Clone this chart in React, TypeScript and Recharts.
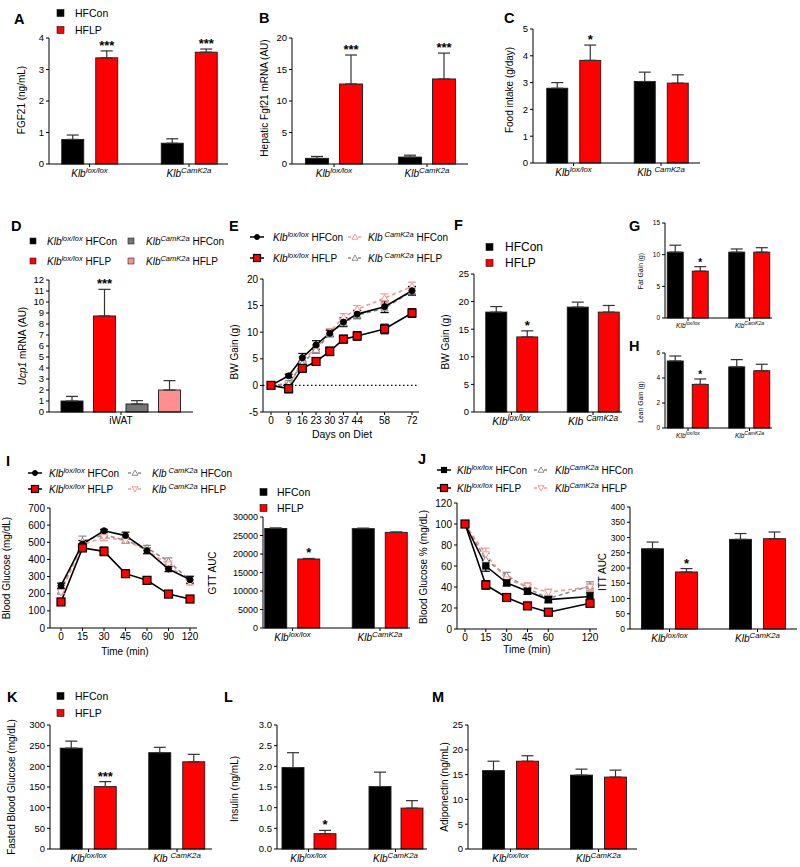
import React from 'react';
import { BarChart, Bar, XAxis, YAxis, ErrorBar, LineChart, Line, ReferenceLine } from 'recharts';

const FONT = 'Arial, "Liberation Sans", Helvetica, sans-serif';
const BLACK = '#000000';
const RED = '#ff0000';
const GRAY = '#767676';
const PINK = '#ff8e8e';
const LINE_PINK = '#f29a9a';

const diets = ['HFCon', 'HFLP'];
const genotypes = ['lox/lox', 'CamK2a'];

// A - serum FGF21
const fgf21Con = [0.78, 0.66];
const fgf21ConErr = [0.14, 0.14];
const fgf21Lp = [3.37, 3.55];
const fgf21LpErr = [0.22, 0.1];
const fgf21Stars = ['***', '***'];

// B - hepatic Fgf21 mRNA
const liverCon = [0.9, 1.1];
const liverConErr = [0.3, 0.3];
const liverLp = [12.7, 13.5];
const liverLpErr = [4.6, 4.1];
const liverStars = ['***', '***'];

// C - food intake
const foodCon = [2.79, 3.04];
const foodConErr = [0.21, 0.35];
const foodLp = [3.83, 2.98];
const foodLpErr = [0.57, 0.31];
const foodStars = ['*', ''];

// D - Ucp1 iWAT
const ucpTissue = ['iWAT'];
const ucpGroups = ['lox/lox HFCon', 'lox/lox HFLP', 'CamK2a HFCon', 'CamK2a HFLP'];
const ucpLoxCon = [1.0];
const ucpLoxConErr = [0.42];
const ucpLoxLp = [8.73];
const ucpLoxLpErr = [2.42];
const ucpCamCon = [0.73];
const ucpCamConErr = [0.3];
const ucpCamLp = [2.0];
const ucpCamLpErr = [0.85];

// E - body weight gain over time
const days = [0, 9, 16, 23, 30, 37, 44, 58, 72];
const bwLoxCon = [0, 1.8, 5.2, 7.6, 9.8, 11.9, 13.4, 14.8, 17.8];
const bwLoxConErr = [0.2, 0.3, 0.8, 0.8, 0.6, 0.8, 0.7, 1.1, 0.8];
const bwLoxLp = [0, -0.6, 3.2, 4.5, 6.4, 8.7, 9.3, 10.6, 13.6];
const bwLoxLpErr = [0.2, 0.8, 0.5, 0.7, 0.8, 0.7, 0.8, 0.9, 0.8];
const bwCamCon = [0, -0.3, 4.7, 7.0, 10.1, 12.8, 14.3, 16.4, 18.6];
const bwCamConErr = [0.2, 0.8, 0.6, 0.7, 0.6, 0.7, 0.7, 0.8, 0.8];
const bwCamLp = [0, 0.3, 4.1, 6.7, 9.7, 11.7, 13.2, 14.5, 17.7];
const bwCamLpErr = [0.2, 0.6, 0.6, 0.7, 0.6, 0.7, 0.7, 0.8, 0.8];

// F, G, H - BW / fat / lean gain
const bwGainCon = [18.1, 19.0];
const bwGainConErr = [1.0, 0.9];
const bwGainLp = [13.6, 18.1];
const bwGainLpErr = [1.1, 1.2];
const bwGainStars = ['*', ''];
const fatCon = [10.4, 10.4];
const fatConErr = [1.1, 0.5];
const fatLp = [7.4, 10.4];
const fatLpErr = [0.7, 0.7];
const fatStars = ['*', ''];
const leanCon = [5.36, 4.89];
const leanConErr = [0.4, 0.58];
const leanLp = [3.49, 4.58];
const leanLpErr = [0.43, 0.52];
const leanStars = ['*', ''];

// I - GTT
const gttTimes = ['0', '15', '30', '45', '60', '90', '120'];
const gttLoxCon = [247, 490, 567, 539, 451, 344, 282];
const gttLoxConErr = [15, 20, 8, 20, 18, 15, 20];
const gttLoxLp = [152, 467, 447, 317, 278, 198, 169];
const gttLoxLpErr = [10, 15, 25, 18, 10, 10, 10];
const gttCamCon = [214, 506, 545, 510, 467, 389, 278];
const gttCamConErr = [12, 30, 20, 15, 15, 20, 20];
const gttCamLp = [208, 486, 529, 510, 453, 370, 266];
const gttCamLpErr = [12, 25, 20, 15, 15, 20, 15];
const gttAucCon = [26900, 26850];
const gttAucConErr = [150, 150];
const gttAucLp = [18650, 25850];
const gttAucLpErr = [150, 100];
const gttAucStars = ['*', ''];

// J - ITT (no 90 min sample)
const ittTimes = ['0', '15', '30', '45', '60', '90', '120'];
const ittTickLabels = ['0', '15', '30', '45', '60', '120'];
const ittLoxCon = [100, 60, 44, 36, 28, null, 31];
const ittLoxConErr = [0, 5, 3, 3, 3, null, 4];
const ittLoxLp = [100, 42, 30, 22, 16, null, 24.5];
const ittLoxLpErr = [0, 4, 2, 1.5, 1.5, null, 2];
const ittCamCon = [100, 66, 51, 39, 29, null, 41];
const ittCamConErr = [0, 6, 3, 3, 3, null, 4];
const ittCamLp = [100, 71, 47, 41, 35, null, 40];
const ittCamLpErr = [0, 6, 3, 3, 3, null, 3];
const ittAucCon = [263, 294];
const ittAucConErr = [22, 19];
const ittAucLp = [187, 296];
const ittAucLpErr = [11, 22];
const ittAucStars = ['*', ''];

// K, L, M
const fbgCon = [244, 233];
const fbgConErr = [17, 13];
const fbgLp = [151, 211];
const fbgLpErr = [12, 18];
const fbgStars = ['***', ''];
const insCon = [1.97, 1.51];
const insConErr = [0.36, 0.35];
const insLp = [0.37, 0.99];
const insLpErr = [0.08, 0.18];
const insStars = ['*', ''];
const adipoCon = [15.8, 14.9];
const adipoConErr = [1.9, 1.2];
const adipoLp = [17.7, 14.5];
const adipoLpErr = [1.1, 1.4];

type BarSeries = { values: number[]; errs: number[]; color: string; stars?: string[] };

const klbTick = (fs: number, space: boolean) => (p: any) => (
  <text x={p.x} y={p.y + fs * 0.8} textAnchor="middle" fontFamily={FONT} fontSize={fs} fontStyle="italic" fill="#000">
    {'Klb' + (space && p.payload.value === 'CamK2a' ? ' ' : '')}
    <tspan dy={-fs * 0.42} fontSize={fs * 0.78}>{p.payload.value}</tspan>
  </text>
);

const barShape = (k: number, color: string, starFs: number) => (p: any) => {
  const { x, y, width, height, payload } = p;
  const star = payload ? payload['s' + k] : '';
  let starEl = null;
  if (star && height > 0) {
    const val = payload['v' + k];
    const err = payload['e' + k][1];
    const capY = y - (height / val) * err;
    starEl = (
      <text x={x + width / 2} y={capY - 1} textAnchor="middle" fontFamily={FONT} fontWeight="bold" fontSize={starFs} fill="#000">
        {star}
      </text>
    );
  }
  return (
    <g>
      <rect x={x} y={y} width={width} height={height} fill={color} stroke="#1a1a1a" strokeWidth={0.9} />
      {starEl}
    </g>
  );
};

function BarPanel(props: {
  plot: number[];
  centers: number[];
  domain: number[];
  ticks: number[];
  categories: string[];
  series: BarSeries[];
  barSize: number;
  barGap: number;
  fs?: number;
  catFs?: number;
  starFs?: number;
  space?: boolean;
  plainCat?: boolean;
  fmt?: (v: number) => string;
}) {
  const { plot, centers, domain, ticks, categories, series, barSize, barGap } = props;
  const fs = props.fs ?? 9.5;
  const catFs = props.catFs ?? 10;
  const starFs = props.starFs ?? 13;
  const [x0, y0, x1, y1] = plot;
  const ML = 44, MT = 20, MR = 6, MB = 26;
  const W = x1 - x0 + ML + MR;
  const H = y1 - y0 + MT + MB;
  let padL = 0, padR = 0;
  if (centers.length === 2) {
    const band = centers[1] - centers[0];
    padL = centers[0] - band / 2 - x0;
    padR = x1 - (centers[1] + band / 2);
  }
  const data = categories.map((c, i) => {
    const row: Record<string, any> = { cat: c };
    series.forEach((s, k) => {
      row['v' + k] = s.values[i];
      row['e' + k] = [0, s.errs[i]];
      row['s' + k] = s.stars ? s.stars[i] : '';
    });
    return row;
  });
  return (
    <div style={{ position: 'absolute', left: x0 - ML, top: y0 - MT, width: W, height: H }}>
      <BarChart width={W} height={H} data={data} margin={{ top: MT, right: MR, bottom: 0, left: 0 }} barGap={barGap}>
        <XAxis
          dataKey="cat"
          height={MB}
          padding={{ left: padL, right: padR }}
          stroke="#000"
          tickSize={3}
          interval={0}
          tick={props.plainCat ? { fontSize: catFs, fill: '#000', fontFamily: FONT } : klbTick(catFs, !!props.space)}
        />
        <YAxis
          width={ML}
          domain={domain}
          ticks={ticks}
          interval={0}
          stroke="#000"
          tickSize={3}
          tickFormatter={props.fmt}
          tick={{ fontSize: fs, fill: '#000', fontFamily: FONT }}
        />
        {series.map((s, k) => (
          <Bar key={k} dataKey={'v' + k} barSize={barSize} fill={s.color} isAnimationActive={false} shape={barShape(k, s.color, starFs)}>
            <ErrorBar dataKey={'e' + k} width={6} stroke="#333" strokeWidth={1.2} direction="y" />
          </Bar>
        ))}
      </BarChart>
    </div>
  );
}

type LineSeries = {
  values: (number | null)[];
  errs: (number | null)[];
  color: string;
  dash?: string;
  marker: string;
  fill: string;
  mStroke: string;
  size: number;
};

function Marker({ cx, cy, kind, fill, stroke, size }: any) {
  if (cx == null || cy == null || isNaN(cy)) return <g />;
  const h = size / 2;
  if (kind === 'circle') return <circle cx={cx} cy={cy} r={h} fill={fill} stroke={stroke} strokeWidth={1} />;
  if (kind === 'square')
    return <rect x={cx - h} y={cy - h} width={size} height={size} fill={fill} stroke={stroke} strokeWidth={1.2} />;
  if (kind === 'up')
    return <polygon points={`${cx},${cy - h} ${cx + h},${cy + h * 0.75} ${cx - h},${cy + h * 0.75}`} fill={fill} stroke={stroke} strokeWidth={1} />;
  return <polygon points={`${cx},${cy + h} ${cx + h},${cy - h * 0.75} ${cx - h},${cy - h * 0.75}`} fill={fill} stroke={stroke} strokeWidth={1} />;
}

function LinePanel(props: {
  plot: number[];
  xVals: (string | number)[];
  numeric?: boolean;
  xDomain?: number[];
  xTicks?: (string | number)[];
  pad: number[];
  yDomain: number[];
  yTicks: number[];
  series: LineSeries[];
  fs?: number;
  zero?: boolean;
}) {
  const { plot, xVals, pad, yDomain, yTicks, series } = props;
  const fs = props.fs ?? 10;
  const [x0, y0, x1, y1] = plot;
  const ML = 44, MT = 14, MR = 8, MB = 24;
  const W = x1 - x0 + ML + MR;
  const H = y1 - y0 + MT + MB;
  const data = xVals.map((x, i) => {
    const row: Record<string, any> = { x };
    series.forEach((s, k) => {
      row['v' + k] = s.values[i];
      row['e' + k] = s.errs[i];
    });
    return row;
  });
  return (
    <div style={{ position: 'absolute', left: x0 - ML, top: y0 - MT, width: W, height: H }}>
      <LineChart width={W} height={H} data={data} margin={{ top: MT, right: MR, bottom: 0, left: 0 }}>
        {props.numeric ? (
          <XAxis
            dataKey="x"
            type="number"
            domain={props.xDomain}
            ticks={props.xTicks as number[]}
            interval={0}
            padding={{ left: pad[0], right: pad[1] }}
            height={MB}
            stroke="#000"
            tickSize={3}
            tick={{ fontSize: fs, fill: '#000', fontFamily: FONT }}
          />
        ) : (
          <XAxis
            dataKey="x"
            type="category"
            scale="point"
            ticks={props.xTicks as any}
            interval={0}
            padding={{ left: pad[0], right: pad[1] }}
            height={MB}
            stroke="#000"
            tickSize={3}
            tick={{ fontSize: fs, fill: '#000', fontFamily: FONT }}
          />
        )}
        <YAxis
          width={ML}
          domain={yDomain}
          ticks={yTicks}
          interval={0}
          stroke="#000"
          tickSize={3}
          tick={{ fontSize: fs, fill: '#000', fontFamily: FONT }}
        />
        {props.zero && <ReferenceLine y={0} stroke="#000" strokeDasharray="1.5 2.5" strokeWidth={1.2} />}
        {series.map((s, k) => (
          <Line
            key={k}
            dataKey={'v' + k}
            stroke={s.color}
            strokeWidth={1.6}
            strokeDasharray={s.dash}
            connectNulls
            isAnimationActive={false}
            dot={(p: any) => (
              <Marker key={p.index} cx={p.cx} cy={p.cy} kind={s.marker} fill={s.fill} stroke={s.mStroke} size={s.size} />
            )}
            activeDot={false}
          >
            <ErrorBar dataKey={'e' + k} width={4} stroke={s.mStroke} strokeWidth={1.2} direction="y" />
          </Line>
        ))}
      </LineChart>
    </div>
  );
}

const twoGroups = (con: number[], conErr: number[], lp: number[], lpErr: number[], stars?: string[]): BarSeries[] => [
  { values: con, errs: conErr, color: BLACK },
  { values: lp, errs: lpErr, color: RED, stars },
];

const YTitle = ({ x, y, fs = 10, children }: any) => (
  <text transform={`translate(${x},${y}) rotate(-90)`} textAnchor="middle" fontFamily={FONT} fontSize={fs} fill="#000">
    {children}
  </text>
);

const Letter = ({ x, y, t }: any) => (
  <text x={x} y={y} fontFamily={FONT} fontWeight="bold" fontSize={14.5} fill="#000">
    {t}
  </text>
);

const Klb = ({ x, y, sup, rest, fs = 10 }: any) => (
  <text x={x} y={y} fontFamily={FONT} fontSize={fs} fill="#000">
    <tspan fontStyle="italic">Klb</tspan>
    <tspan fontStyle="italic" fontSize={fs * 0.75} dy={-fs * 0.4}>
      {sup}
    </tspan>
    <tspan dy={fs * 0.4}>{' ' + rest}</tspan>
  </text>
);

const SquareLegend = ({ x, tx, ys, fs = 10.5 }: any) => (
  <g>
    {diets.map((d, i) => (
      <g key={d}>
        <rect x={x} y={ys[i] - 3.5} width={7} height={7} fill={i === 0 ? BLACK : RED} stroke="#111" strokeWidth={0.6} />
        <text x={tx} y={ys[i] + fs * 0.36} fontFamily={FONT} fontSize={fs} fill="#000">
          {d}
        </text>
      </g>
    ))}
  </g>
);

const LineKey = ({ cx, cy, s }: any) => (
  <g>
    <line x1={cx - 7} x2={cx + 7} y1={cy} y2={cy} stroke={s.color} strokeWidth={1.5} strokeDasharray={s.dash ? '3 2' : undefined} />
    <Marker cx={cx} cy={cy} kind={s.marker} fill={s.fill} stroke={s.mStroke} size={s.size - 1} />
  </g>
);

export default function App() {
  const eSeries: LineSeries[] = [
    { values: bwCamCon, errs: bwCamConErr, color: LINE_PINK, dash: '4 3', marker: 'up', fill: '#fff', mStroke: LINE_PINK, size: 7 },
    { values: bwCamLp, errs: bwCamLpErr, color: '#8c8c8c', dash: '4 3', marker: 'up', fill: '#fff', mStroke: '#8c8c8c', size: 7 },
    { values: bwLoxCon, errs: bwLoxConErr, color: BLACK, marker: 'circle', fill: BLACK, mStroke: BLACK, size: 6 },
    { values: bwLoxLp, errs: bwLoxLpErr, color: BLACK, marker: 'square', fill: RED, mStroke: BLACK, size: 8 },
  ];
  const iSeries: LineSeries[] = [
    { values: gttCamCon, errs: gttCamConErr, color: '#8c8c8c', dash: '4 3', marker: 'up', fill: '#fff', mStroke: '#8c8c8c', size: 7 },
    { values: gttCamLp, errs: gttCamLpErr, color: LINE_PINK, dash: '4 3', marker: 'down', fill: '#fff', mStroke: LINE_PINK, size: 7 },
    { values: gttLoxCon, errs: gttLoxConErr, color: BLACK, marker: 'circle', fill: BLACK, mStroke: BLACK, size: 6 },
    { values: gttLoxLp, errs: gttLoxLpErr, color: BLACK, marker: 'square', fill: RED, mStroke: BLACK, size: 8 },
  ];
  const jSeries: LineSeries[] = [
    { values: ittCamCon, errs: ittCamConErr, color: '#8c8c8c', dash: '4 3', marker: 'up', fill: '#fff', mStroke: '#8c8c8c', size: 7 },
    { values: ittCamLp, errs: ittCamLpErr, color: LINE_PINK, dash: '4 3', marker: 'down', fill: '#fff', mStroke: LINE_PINK, size: 7 },
    { values: ittLoxCon, errs: ittLoxConErr, color: BLACK, marker: 'square', fill: BLACK, mStroke: BLACK, size: 6 },
    { values: ittLoxLp, errs: ittLoxLpErr, color: BLACK, marker: 'square', fill: RED, mStroke: BLACK, size: 8 },
  ];

  return (
    <div style={{ position: 'absolute', left: 0, top: 0, width: 800, height: 867, background: '#fff', overflow: 'hidden', fontFamily: FONT }}>
      {/* A */}
      <BarPanel plot={[49, 38, 228, 164]} centers={[89.5, 189]} domain={[0, 4]} ticks={[0, 1, 2, 3, 4]} categories={genotypes}
        series={twoGroups(fgf21Con, fgf21ConErr, fgf21Lp, fgf21LpErr, fgf21Stars)} barSize={22} barGap={12} />
      {/* B */}
      <BarPanel plot={[292, 38, 468, 164]} centers={[334, 427]} domain={[0, 20]} ticks={[0, 5, 10, 15, 20]} categories={genotypes}
        series={twoGroups(liverCon, liverConErr, liverLp, liverLpErr, liverStars)} barSize={23} barGap={11} />
      {/* C */}
      <BarPanel plot={[533, 29, 700, 163]} centers={[573.5, 661]} domain={[0, 5]} ticks={[0, 1, 2, 3, 4, 5]} categories={genotypes}
        series={twoGroups(foodCon, foodConErr, foodLp, foodLpErr, foodStars)} barSize={21} barGap={12} space />
      {/* D */}
      <BarPanel plot={[49, 280, 193, 412]} centers={[]} domain={[0, 12]} ticks={[0, 1, 2, 3, 4, 5, 6, 7, 8, 9, 10, 11, 12]}
        categories={ucpTissue} plainCat
        series={[
          { values: ucpLoxCon, errs: ucpLoxConErr, color: BLACK },
          { values: ucpLoxLp, errs: ucpLoxLpErr, color: RED, stars: ['***'] },
          { values: ucpCamCon, errs: ucpCamConErr, color: GRAY },
          { values: ucpCamLp, errs: ucpCamLpErr, color: PINK },
        ]}
        barSize={22} barGap={10.5} />
      {/* E */}
      <LinePanel plot={[263, 279, 419, 412]} xVals={days} numeric xDomain={[0, 72]} xTicks={days} pad={[8, 7]}
        yDomain={[-5, 20]} yTicks={[-5, 0, 5, 10, 15, 20]} series={eSeries} zero />
      {/* F */}
      <BarPanel plot={[474, 274, 622, 412]} centers={[511.5, 593]} domain={[0, 25]} ticks={[0, 5, 10, 15, 20, 25]} categories={genotypes}
        series={twoGroups(bwGainCon, bwGainConErr, bwGainLp, bwGainLpErr, bwGainStars)} barSize={21} barGap={10} space catFs={10.5} />
      {/* G */}
      <BarPanel plot={[665, 223, 772, 318]} centers={[688, 749.5]} domain={[0, 15]} ticks={[0, 5, 10, 15]} categories={genotypes}
        series={twoGroups(fatCon, fatConErr, fatLp, fatLpErr, fatStars)} barSize={16} barGap={9} fs={6.5} catFs={6.5} starFs={10} />
      {/* H */}
      <BarPanel plot={[665, 353, 772, 428]} centers={[688, 749.5]} domain={[0, 6]} ticks={[0, 2, 4, 6]} categories={genotypes}
        series={twoGroups(leanCon, leanConErr, leanLp, leanLpErr, leanStars)} barSize={16} barGap={9} fs={6.5} catFs={6.5} starFs={10} />
      {/* I */}
      <LinePanel plot={[50, 508, 197, 628]} xVals={gttTimes} pad={[11, 7]} yDomain={[0, 700]}
        yTicks={[0, 100, 200, 300, 400, 500, 600, 700]} series={iSeries} />
      <BarPanel plot={[263, 517, 410, 628]} centers={[292.5, 380]} domain={[0, 30000]} ticks={[0, 5000, 10000, 15000, 20000, 25000, 30000]}
        categories={genotypes} series={twoGroups(gttAucCon, gttAucConErr, gttAucLp, gttAucLpErr, gttAucStars)} barSize={22} barGap={11} fs={9} />
      {/* J */}
      <LinePanel plot={[457, 503, 597, 629]} xVals={ittTimes} xTicks={ittTickLabels} pad={[8, 7]} yDomain={[0, 120]}
        yTicks={[0, 20, 40, 60, 80, 100, 120]} series={jSeries} />
      <BarPanel plot={[630, 507, 797, 629]} centers={[669.5, 757.5]} domain={[0, 400]} ticks={[0, 50, 100, 150, 200, 250, 300, 350, 400]}
        categories={genotypes} series={twoGroups(ittAucCon, ittAucConErr, ittAucLp, ittAucLpErr, ittAucStars)} barSize={22} barGap={12} fs={8.5} />
      {/* K */}
      <BarPanel plot={[50, 725, 212, 849]} centers={[88.5, 177]} domain={[0, 300]} ticks={[0, 50, 100, 150, 200, 250, 300]} categories={genotypes}
        series={twoGroups(fbgCon, fbgConErr, fbgLp, fbgLpErr, fbgStars)} barSize={22} barGap={12} space />
      {/* L */}
      <BarPanel plot={[277, 725, 427, 849]} centers={[308.5, 395.5]} domain={[0, 3]} ticks={[0, 0.5, 1, 1.5, 2, 2.5, 3]} categories={genotypes}
        series={twoGroups(insCon, insConErr, insLp, insLpErr, insStars)} barSize={22} barGap={10} fmt={(v) => v.toFixed(1)} />
      {/* M */}
      <BarPanel plot={[468, 725, 637, 849]} centers={[510.5, 598.5]} domain={[0, 25]} ticks={[0, 5, 10, 15, 20, 25]} categories={genotypes}
        series={twoGroups(adipoCon, adipoConErr, adipoLp, adipoLpErr)} barSize={22} barGap={12} />

      <svg width={800} height={867} style={{ position: 'absolute', left: 0, top: 0, pointerEvents: 'none' }}>
        <Letter x={14} y={24} t="A" />
        <Letter x={259} y={23} t="B" />
        <Letter x={504} y={23} t="C" />
        <Letter x={11} y={231} t="D" />
        <Letter x={229} y={231} t="E" />
        <Letter x={454} y={230} t="F" />
        <Letter x={629} y={231} t="G" />
        <Letter x={629} y={351} t="H" />
        <Letter x={6} y={466} t="I" />
        <Letter x={418} y={464} t="J" />
        <Letter x={7} y={702} t="K" />
        <Letter x={224} y={702} t="L" />
        <Letter x={432} y={702} t="M" />

        <YTitle x={25} y={100}>FGF21 (ng/mL)</YTitle>
        <YTitle x={268} y={98}>Hepatic Fgf21 mRNA (AU)</YTitle>
        <YTitle x={513} y={90}>Food intake (g/day)</YTitle>
        <YTitle x={26} y={346}>
          <tspan fontStyle="italic">Ucp1</tspan> mRNA (AU)
        </YTitle>
        <YTitle x={238} y={352}>BW  Gain  (g)</YTitle>
        <YTitle x={449} y={342}>BW  Gain (g)</YTitle>
        <YTitle x={643} y={271} fs={6.8}>Fat  Gain  (g)</YTitle>
        <YTitle x={643} y={402} fs={6.8}>Lean  Gain  (g)</YTitle>
        <YTitle x={10} y={568}>Blood Glucose (mg/dL)</YTitle>
        <YTitle x={216} y={573}>GTT AUC</YTitle>
        <YTitle x={427} y={567}>Blood Glucose %  (mg/dL)</YTitle>
        <YTitle x={606} y={572}>ITT AUC</YTitle>
        <YTitle x={15} y={787}>Fasted Blood Glucose (mg/dL)</YTitle>
        <YTitle x={238} y={789}>Insulin (ng/mL)</YTitle>
        <YTitle x={448} y={787}>Adiponectin  (ng/mL)</YTitle>

        <text x={342} y={438} textAnchor="middle" fontFamily={FONT} fontSize={10.5}>Days on Diet</text>
        <text x={125} y={655} textAnchor="middle" fontFamily={FONT} fontSize={10}>Time (min)</text>
        <text x={527} y={653} textAnchor="middle" fontFamily={FONT} fontSize={10}>Time (min)</text>

        {/* bar legends */}
        <SquareLegend x={57} tx={75} ys={[13, 30]} />
        <SquareLegend x={486} tx={505} ys={[247, 263]} fs={12} />
        <SquareLegend x={260} tx={277} ys={[492, 508]} />
        <SquareLegend x={57} tx={75} ys={[696, 713]} />

        {/* D legend */}
        {ucpGroups.map((g, i) => {
          const col = i < 2 ? 0 : 1;
          const row = i % 2;
          const colors = [BLACK, RED, GRAY, PINK];
          const [sup, rest] = g.split(' ');
          const mx = col === 0 ? 30 : 128;
          const tx = col === 0 ? 47 : 146;
          const y = row === 0 ? 241 : 261;
          return (
            <g key={g}>
              <rect x={mx} y={y - 3} width={6} height={6} fill={colors[i]} stroke="#222" strokeWidth={0.6} />
              <Klb x={tx} y={y + 3.5} sup={sup} rest={rest} />
            </g>
          );
        })}

        {/* E legend */}
        <LineKey cx={257} cy={237} s={eSeries[2]} />
        <Klb x={273} y={240.5} sup="lox/lox" rest="HFCon" />
        <LineKey cx={257} cy={258} s={eSeries[3]} />
        <Klb x={273} y={261.5} sup="lox/lox" rest="HFLP" />
        <LineKey cx={355} cy={237} s={eSeries[0]} />
        <Klb x={368} y={240.5} sup=" CamK2a" rest="HFCon" />
        <LineKey cx={355} cy={258} s={eSeries[1]} />
        <Klb x={368} y={261.5} sup=" CamK2a" rest="HFLP" />

        {/* I legend */}
        <LineKey cx={35} cy={473} s={iSeries[2]} />
        <Klb x={49} y={476.5} sup="lox/lox" rest="HFCon" />
        <LineKey cx={35} cy={489} s={iSeries[3]} />
        <Klb x={49} y={492.5} sup="lox/lox" rest="HFLP" />
        <LineKey cx={135} cy={473} s={iSeries[0]} />
        <Klb x={152} y={476.5} sup=" CamK2a" rest="HFCon" />
        <LineKey cx={135} cy={489} s={iSeries[1]} />
        <Klb x={152} y={492.5} sup=" CamK2a" rest="HFLP" />

        {/* J legend */}
        <LineKey cx={444} cy={470} s={jSeries[2]} />
        <Klb x={457} y={473.5} sup="lox/lox" rest="HFCon" />
        <LineKey cx={444} cy={488} s={jSeries[3]} />
        <Klb x={457} y={491.5} sup="lox/lox" rest="HFLP" />
        <LineKey cx={541} cy={470} s={jSeries[0]} />
        <Klb x={555} y={473.5} sup="CamK2a" rest="HFCon" />
        <LineKey cx={541} cy={488} s={jSeries[1]} />
        <Klb x={555} y={491.5} sup="CamK2a" rest="HFLP" />
      </svg>
    </div>
  );
}
